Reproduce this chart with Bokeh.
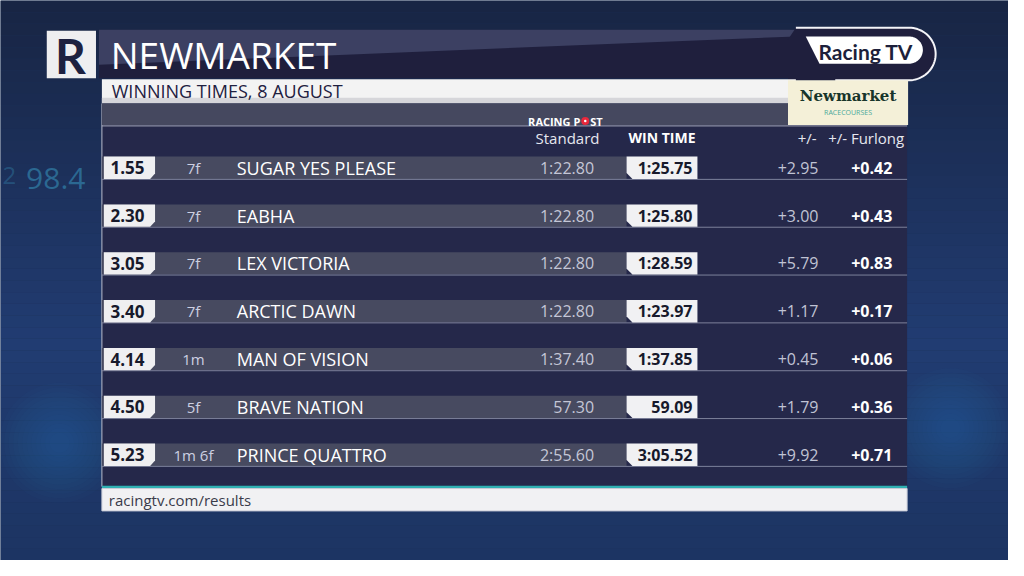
import numpy as np
from bokeh.plotting import figure
from bokeh.models import Range1d, ColumnDataSource
from bokeh.core.properties import value
from bokeh.embed import file_html
from bokeh.resources import INLINE

# ---------------- data ----------------
venue = "NEWMARKET"
subtitle = "WINNING TIMES, 8 AUGUST"
footer = "racingtv.com/results"
headers = ["Standard", "WIN TIME", "+/-", "+/- Furlong"]
race_times = ["1.55", "2.30", "3.05", "3.40", "4.14", "4.50", "5.23"]
distances = ["7f", "7f", "7f", "7f", "1m", "5f", "1m 6f"]
horses = ["SUGAR YES PLEASE", "EABHA", "LEX VICTORIA", "ARCTIC DAWN",
          "MAN OF VISION", "BRAVE NATION", "PRINCE QUATTRO"]
standard_times = ["1:22.80", "1:22.80", "1:22.80", "1:22.80", "1:37.40", "57.30", "2:55.60"]
win_times = ["1:25.75", "1:25.80", "1:28.59", "1:23.97", "1:37.85", "59.09", "3:05.52"]
diffs = ["+2.95", "+3.00", "+5.79", "+1.17", "+0.45", "+1.79", "+9.92"]
per_furlong = ["+0.42", "+0.43", "+0.83", "+0.17", "+0.06", "+0.36", "+0.71"]

FONT = value("Open Sans")

p = figure(width=1008, height=560, x_range=Range1d(0, 1024), y_range=Range1d(576, 0),
           output_backend="svg", toolbar_location=None, min_border=0,
           x_axis_location=None, y_axis_location=None)
p.grid.visible = False
p.outline_line_color = None
p.background_fill_color = "#1d3259"
p.border_fill_color = "#1d3259"

# ---------------- background gradient ----------------
def lerp(c1, c2, t):
    a = [int(c1[i:i + 2], 16) for i in (1, 3, 5)]
    b = [int(c2[i:i + 2], 16) for i in (1, 3, 5)]
    return "#%02x%02x%02x" % tuple(int(round(a[k] + (b[k] - a[k]) * t)) for k in range(3))

edges = np.linspace(0, 576, 49)
cols = []
for e in edges[:-1]:
    t = e / 576
    cols.append(lerp("#182544", "#213c72", t / 0.6) if t < 0.6 else lerp("#213c72", "#1c3462", (t - 0.6) / 0.4))
p.quad(left=0, right=1024, top=edges[:-1], bottom=edges[1:], fill_color=cols, line_color=None)
# soft glows
for s in np.linspace(120, 20, 12):
    p.scatter(x=[60, 965], y=[455, 440], size=s, fill_color="#2d78c0", fill_alpha=0.03, line_color=None)
p.text(x=[26], y=[183], text=["98.4"], text_font=FONT, text_font_size="30px",
       text_color="#3aa0c8", text_alpha=0.5, text_baseline="middle")
p.text(x=[2], y=[180], text=["2"], text_font=FONT, text_font_size="24px",
       text_color="#3aa0c8", text_alpha=0.3, text_baseline="middle")

# ---------------- title band ----------------
p.patch(x=[100, 845, 845, 100], y=[30, 30, 80, 80], fill_color="#1f1f3d", line_color=None)
p.patch(x=[100, 808, 808, 100], y=[30, 30, 37, 66], fill_color="#3c4062", line_color=None)
p.quad(left=47, right=97, top=31, bottom=80, fill_color="#eeeef0", line_color=None)
p.text(x=[71], y=[57], text=["R"], text_font=value("Lato"), text_font_style="bold",
       text_font_size="48px", text_color="#1d2140", text_align="center", text_baseline="middle")
p.text(x=[112], y=[56], text=[venue], text_font=FONT, text_font_size="37px",
       text_color="#ffffff", text_baseline="middle")

# Racing TV pill
t = np.linspace(-np.pi / 2, np.pi / 2, 40)
ax = 923 + 27 * np.cos(t)
ay = 55 + 27 * np.sin(t)
p.patch(x=[808] + list(ax) + [800, 800], y=[28] + list(ay) + [82, 40],
        fill_color="#1f1f3d", line_color=None)
p.line(x=[808] + list(ax) + [848], y=[28] + list(ay) + [82], line_color="#f4f4f8", line_width=2)
bx = 923 + 14 * np.cos(t)
by = 51 + 14 * np.sin(t)
p.patch(x=[818] + list(bx) + [832], y=[37] + list(by) + [65], fill_color="#ffffff", line_color=None)
p.text(x=[879], y=[52], text=["Racing TV"], text_font=value("Lato"), text_font_style="bold",
       text_font_size="21px", text_color="#1d1f3b", text_align="center", text_baseline="middle")

# ---------------- subtitle bar ----------------
p.quad(left=103, right=808, top=81, bottom=106, fill_color="#f3f3f3", line_color=None)
p.quad(left=103, right=808, top=100, bottom=106, fill_color="#d6d6da", line_color=None)
p.text(x=[113], y=[93], text=[subtitle], text_font=FONT, text_font_size="18px",
       text_color="#1e2040", text_baseline="middle")

# ---------------- main panel ----------------
p.quad(left=103, right=921, top=106, bottom=500, fill_color="#25284a", line_color=None)
p.segment(x0=[103], y0=[106], x1=[103], y1=[500], line_color="#b8bccb", line_width=1)
p.quad(left=103, right=800, top=106, bottom=128, fill_color="#45485f", line_color=None)
p.segment(x0=[103], y0=[129], x1=[921], y1=[129], line_color="#a6a9bb", line_width=1)

# Newmarket logo box
p.quad(left=800, right=922, top=82, bottom=128, fill_color="#f4f0d8", line_color=None)
p.text(x=[861], y=[98], text=["Newmarket"], text_font=value("DejaVu Serif"), text_font_style="bold",
       text_font_size="15px", text_color="#17352a", text_align="center", text_baseline="middle")
p.text(x=[861], y=[115], text=["RACECOURSES"], text_font=FONT,
       text_font_size="7px", text_color="#4aa99a", text_align="center", text_baseline="middle")

# Racing Post mark
p.text(x=[589], y=[124], text=["RACING P"], text_font=FONT, text_font_style="bold",
       text_font_size="11px", text_color="#ffffff", text_align="right", text_baseline="middle")
p.scatter(x=[594], y=[124], size=8, fill_color="#e8283c", line_color=None)
p.scatter(x=[594], y=[124], size=2.5, fill_color="#ffffff", line_color=None)
p.text(x=[599], y=[124], text=["ST"], text_font=FONT, text_font_style="bold",
       text_font_size="11px", text_color="#ffffff", text_align="left", text_baseline="middle")

# column headers
p.text(x=[576], y=[141], text=[headers[0]], text_font=FONT, text_font_size="15px",
       text_color="#e6e7ef", text_align="center", text_baseline="middle")
p.text(x=[672], y=[141], text=[headers[1]], text_font=FONT, text_font_style="bold",
       text_font_size="14px", text_color="#ffffff", text_align="center", text_baseline="middle")
p.text(x=[829, 918], y=[141, 141], text=headers[2:], text_font=FONT, text_font_size="15px",
       text_color="#e6e7ef", text_align="right", text_baseline="middle")

# ---------------- rows ----------------
n = len(horses)
yc = 172 + 49.2 * np.arange(n)
src = ColumnDataSource(dict(y=yc, top=yc - 11.5, bot=yc + 11.5, line_y=yc + 12,
                            race=race_times, dist=distances, horse=horses,
                            std=standard_times, win=win_times, diff=diffs, pf=per_furlong))
p.quad(left=103, right=636, top="top", bottom="bot", source=src, fill_color="#474a60", line_color=None)
p.segment(x0=103, y0="line_y", x1=921, y1="line_y", source=src, line_color="#7d819b", line_width=1)

tb_x = [[105, 157, 157, 152, 105] for _ in range(n)]
tb_y = [[y - 11.5, y - 11.5, y + 6, y + 11.5, y + 11.5] for y in yc]
p.patches(xs=tb_x, ys=tb_y, fill_color="#efeff1", line_color=None)
wb_x = [[636, 708, 708, 642, 636] for _ in range(n)]
wb_y = [[y - 11.5, y - 11.5, y + 11.5, y + 11.5, y + 5.5] for y in yc]
p.patches(xs=wb_x, ys=wb_y, fill_color="#f1f1f3", line_color=None)

p.text(x=129, y="y", text="race", source=src, text_font=FONT, text_font_style="bold",
       text_font_size="17px", text_color="#17192b", text_align="center", text_baseline="middle")
p.text(x=196, y="y", text="dist", source=src, text_font=FONT, text_font_size="15px",
       text_color="#cdd0e2", text_align="center", text_baseline="middle")
p.text(x=240, y="y", text="horse", source=src, text_font=FONT, text_font_size="18px",
       text_color="#ffffff", text_align="left", text_baseline="middle")
p.text(x=603, y="y", text="std", source=src, text_font=FONT, text_font_size="16px",
       text_color="#c4c6d6", text_align="right", text_baseline="middle")
p.text(x=703, y="y", text="win", source=src, text_font=FONT, text_font_style="bold",
       text_font_size="16px", text_color="#17192b", text_align="right", text_baseline="middle")
p.text(x=831, y="y", text="diff", source=src, text_font=FONT, text_font_size="16px",
       text_color="#c0c3d4", text_align="right", text_baseline="middle")
p.text(x=906, y="y", text="pf", source=src, text_font=FONT, text_font_style="bold",
       text_font_size="16px", text_color="#ffffff", text_align="right", text_baseline="middle")

# ---------------- footer ----------------
p.quad(left=103, right=921, top=499, bottom=502, fill_color="#2fb0b2", line_color=None)
p.quad(left=103, right=921, top=502, bottom=525, fill_color="#f1f1f3", line_color="#c9ccd8", line_width=1)
p.text(x=[110], y=[514], text=[footer], text_font=FONT, text_font_size="15px",
       text_color="#3a3b4a", text_baseline="middle")

open("out.html", "w").write(file_html(p, INLINE))
